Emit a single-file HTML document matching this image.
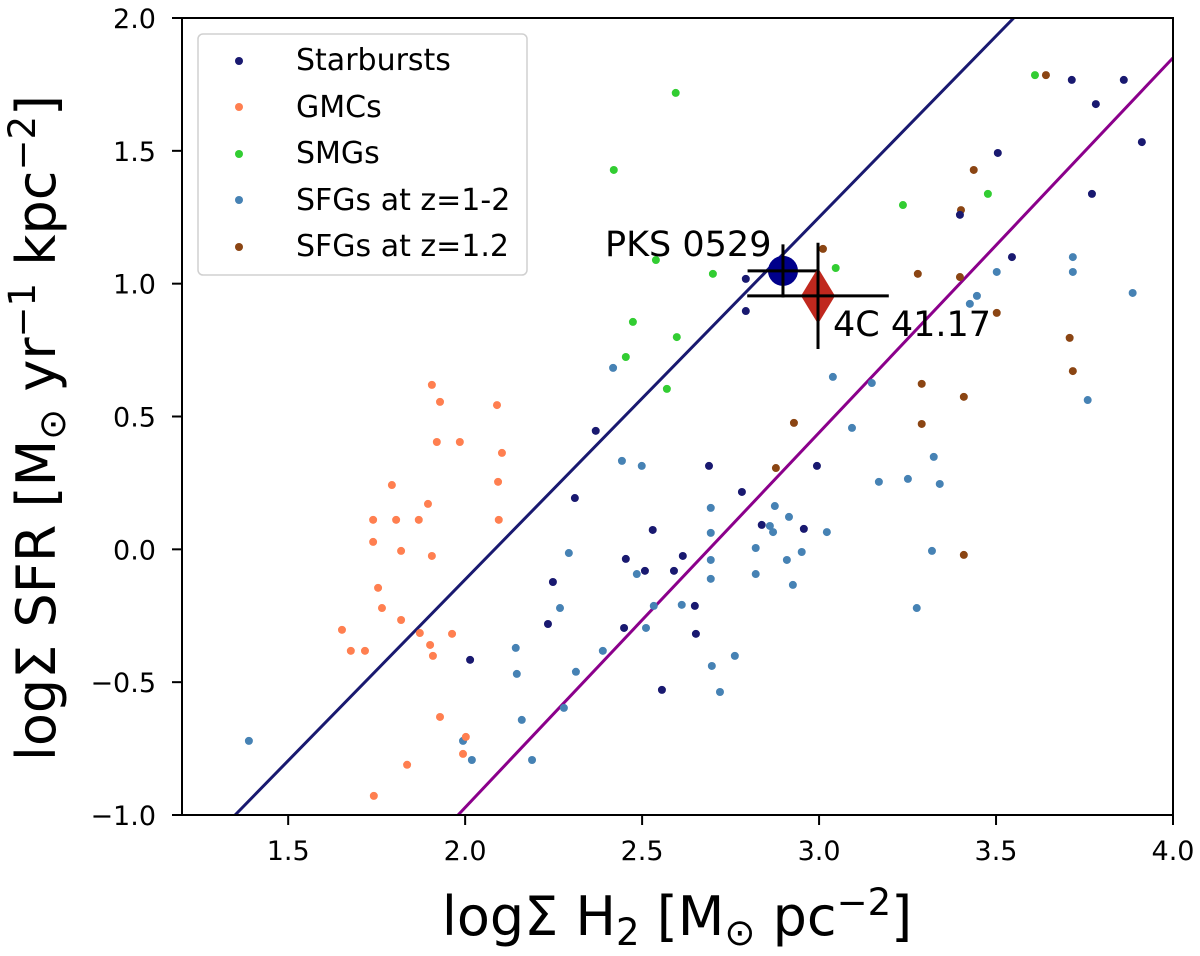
<!DOCTYPE html>
<html><head><meta charset="utf-8"><style>
body{margin:0;background:#fff;}
svg text{font-family:"DejaVu Sans","Liberation Sans",sans-serif;fill:#000;}
</style></head><body>
<svg id="chart" width="1200" height="951" viewBox="0 0 1200 951" xmlns="http://www.w3.org/2000/svg">
<g id="plot"></g>
</svg>
<script>
const xTicks=[1.5,2.0,2.5,3.0,3.5,4.0];
const xTickLabels=["1.5","2.0","2.5","3.0","3.5","4.0"];
const yTicks=[-1.0,-0.5,0.0,0.5,1.0,1.5,2.0];
const yTickLabels=["\u22121.0","\u22120.5","0.0","0.5","1.0","1.5","2.0"];
const starX=[3.714,3.861,3.782,3.912,3.771,3.505,3.398,3.545,2.793,2.793,2.369,2.310,2.782,2.838,2.957,2.994,2.689,2.530,2.615,2.454,2.508,2.590,2.649,2.248,2.234,2.449,2.652,2.556,2.014];
const starY=[1.767,1.767,1.676,1.533,1.338,1.492,1.259,1.100,1.018,0.897,0.446,0.193,0.216,0.092,0.077,0.314,0.314,0.073,-0.025,-0.036,-0.081,-0.081,-0.213,-0.123,-0.281,-0.296,-0.318,-0.529,-0.416];
const gmcX=[1.906,1.929,2.090,1.920,1.985,2.104,2.093,2.095,1.793,1.740,1.805,1.869,1.895,1.740,1.819,1.906,1.754,1.765,1.819,1.872,1.901,1.963,1.652,1.677,1.717,1.909,1.929,2.002,1.994,1.836,1.742];
const gmcY=[0.619,0.555,0.543,0.404,0.404,0.363,0.254,0.111,0.242,0.111,0.111,0.111,0.171,0.028,-0.006,-0.025,-0.145,-0.221,-0.266,-0.315,-0.360,-0.318,-0.303,-0.382,-0.382,-0.401,-0.631,-0.706,-0.770,-0.811,-0.928];
const smgX=[2.595,3.610,2.420,2.539,2.700,3.047,3.237,3.477,2.474,2.454,2.598,2.570];
const smgY=[1.718,1.785,1.428,1.089,1.037,1.059,1.296,1.338,0.856,0.724,0.799,0.604];
const sfgX=[3.717,3.717,3.886,3.502,3.446,3.426,3.759,3.039,3.149,3.093,3.341,3.324,3.251,3.169,3.319,3.276,3.022,2.915,2.875,2.861,2.821,2.870,2.951,2.926,2.909,2.694,2.694,2.694,2.694,2.499,2.443,2.485,2.533,2.612,2.697,2.720,2.762,2.821,2.293,2.268,2.143,2.146,2.160,2.313,2.279,2.389,2.511,2.189,1.994,2.019,1.389,2.418];
const sfgY=[1.100,1.044,0.965,1.044,0.954,0.924,0.562,0.649,0.626,0.457,0.246,0.348,0.265,0.254,-0.006,-0.221,0.065,0.122,0.163,0.088,0.005,0.065,-0.010,-0.134,-0.040,0.156,0.062,-0.040,-0.111,0.314,0.333,-0.093,-0.213,-0.209,-0.439,-0.537,-0.401,-0.093,-0.014,-0.221,-0.371,-0.469,-0.642,-0.461,-0.597,-0.382,-0.296,-0.793,-0.721,-0.793,-0.721,0.683];
const sfg12X=[3.641,3.437,3.401,3.279,3.398,3.502,3.708,3.717,3.409,3.011,3.290,3.290,2.929,2.878,3.409];
const sfg12Y=[1.785,1.428,1.277,1.037,1.025,0.890,0.796,0.671,0.574,1.131,0.623,0.472,0.476,0.306,-0.021];
const lineSB=[[1.35,-1.0],[3.55,2.0]];
const lineSF=[[1.98,-1.0],[4.0,1.85]];
const pks=[2.898,1.048,0.1,0.1];
const c4=[2.997,0.954,0.2,0.2];

const L=182,R=1173,T=18,B=815;
const sx=v=>L+(v-1.2)/(4.0-1.2)*(R-L);
const sy=v=>B-(v+1.0)/3.0*(B-T);
const NS="http://www.w3.org/2000/svg";
const svg=document.getElementById('chart');
const plot=document.getElementById('plot');
function mk(tag,attrs,parent){const e=document.createElementNS(NS,tag);for(const k in attrs)e.setAttribute(k,attrs[k]);(parent||svg).appendChild(e);return e;}

const defs=mk('defs',{});
const cp=mk('clipPath',{id:'clip'},defs);
mk('rect',{x:L,y:T,width:R-L,height:B-T},cp);
const g=mk('g',{'clip-path':'url(#clip)'},plot);

function series(xs,ys,color,name){
  xs.forEach((x,i)=>{
    const c=mk('circle',{cx:sx(x),cy:sy(ys[i]),r:4,fill:color},g);
    
    
  });
}
function line(p,color,name){
  const l=mk('line',{x1:sx(p[0][0]),y1:sy(p[0][1]),x2:sx(p[1][0]),y2:sy(p[1][1]),stroke:color,'stroke-width':3},g);
  
  
}
line(lineSB,'#191970','starburst-sequence-line');
line(lineSF,'#8b008b','main-sequence-line');
series(sfgX,sfgY,'#4682b4','sfg-z1-2');
series(gmcX,gmcY,'#ff7f50','gmc');
series(smgX,smgY,'#32cd32','smg');
series(sfg12X,sfg12Y,'#8b4513','sfg-z1.2');
series(starX,starY,'#191970','starburst');

let cx=sx(pks[0]),cy=sy(pks[1]);
const pc=mk('circle',{cx:cx,cy:cy,r:15,fill:'#00008b'},g);


mk('line',{x1:sx(pks[0]-pks[2]),x2:sx(pks[0]+pks[2]),y1:cy,y2:cy,stroke:'#000','stroke-width':3},g);
mk('line',{x1:cx,x2:cx,y1:sy(pks[1]-pks[3]),y2:sy(pks[1]+pks[3]),stroke:'#000','stroke-width':3},g);
let dx=sx(c4[0]),dy=sy(c4[1]);
const dm=mk('polygon',{points:`${dx},${dy-28} ${dx+17},${dy} ${dx},${dy+28} ${dx-17},${dy}`,fill:'#c0281e'},g);


mk('line',{x1:sx(c4[0]-c4[2]),x2:sx(c4[0]+c4[2]),y1:dy,y2:dy,stroke:'#000','stroke-width':3},g);
mk('line',{x1:dx,x2:dx,y1:sy(c4[1]-c4[3]),y2:sy(c4[1]+c4[3]),stroke:'#000','stroke-width':3},g);
let t=mk('text',{x:605,y:256,'font-size':35},plot);t.textContent='PKS 0529';


t=mk('text',{x:833,y:336,'font-size':35},plot);t.textContent='4C 41.17';



mk('rect',{x:L,y:T,width:R-L,height:B-T,fill:'none',stroke:'#000','stroke-width':2},plot);
xTicks.forEach((v,i)=>{
  mk('line',{x1:sx(v),x2:sx(v),y1:B,y2:B+10,stroke:'#000','stroke-width':2},plot);
  const tt=mk('text',{x:sx(v),y:B+45,'font-size':27,'text-anchor':'middle'},plot);
  tt.textContent=xTickLabels[i];
  
  
});
yTicks.forEach((v,i)=>{
  mk('line',{x1:L-10,x2:L,y1:sy(v),y2:sy(v),stroke:'#000','stroke-width':2},plot);
  const tt=mk('text',{x:L-26,y:sy(v)+10,'font-size':27,'text-anchor':'end'},plot);
  tt.textContent=yTickLabels[i];
  
  
});
</script>
<svg style="position:absolute;left:0;top:0" width="1200" height="951">
<text x="677" y="935" font-size="54" text-anchor="middle" style="font-family:'DejaVu Sans',sans-serif">logΣ H<tspan font-size="37" dy="10">2</tspan><tspan dy="-10"> [M</tspan><tspan font-size="37" dy="10">⊙</tspan><tspan dy="-10"> pc</tspan><tspan font-size="37" dy="-20">−2</tspan><tspan dy="20">]</tspan></text>
<text transform="translate(55,428) rotate(-90)" font-size="54" text-anchor="middle" style="font-family:'DejaVu Sans',sans-serif">logΣ SFR [M<tspan font-size="37" dy="10">⊙</tspan><tspan dy="-10"> yr</tspan><tspan font-size="37" dy="-20">−1</tspan><tspan dy="20"> kpc</tspan><tspan font-size="37" dy="-20">−2</tspan><tspan dy="20">]</tspan></text>
<g style="font-family:'DejaVu Sans',sans-serif" font-size="30">
<rect x="198" y="34" width="329" height="241" rx="5" fill="#fff" fill-opacity="0.85" stroke="#d0d0d0" stroke-width="1.5"/>
<g><circle cx="239" cy="61" r="4" fill="#191970"/><text x="296" y="70">Starbursts</text></g>
<g><circle cx="239" cy="107" r="4" fill="#ff7f50"/><text x="296" y="117">GMCs</text></g>
<g><circle cx="239" cy="154" r="4" fill="#32cd32"/><text x="296" y="163">SMGs</text></g>
<g><circle cx="239" cy="200" r="4" fill="#4682b4"/><text x="296" y="210">SFGs at z=1-2</text></g>
<g><circle cx="239" cy="247" r="4" fill="#8b4513"/><text x="296" y="256">SFGs at z=1.2</text></g>
</g>
</svg>
</body></html>
